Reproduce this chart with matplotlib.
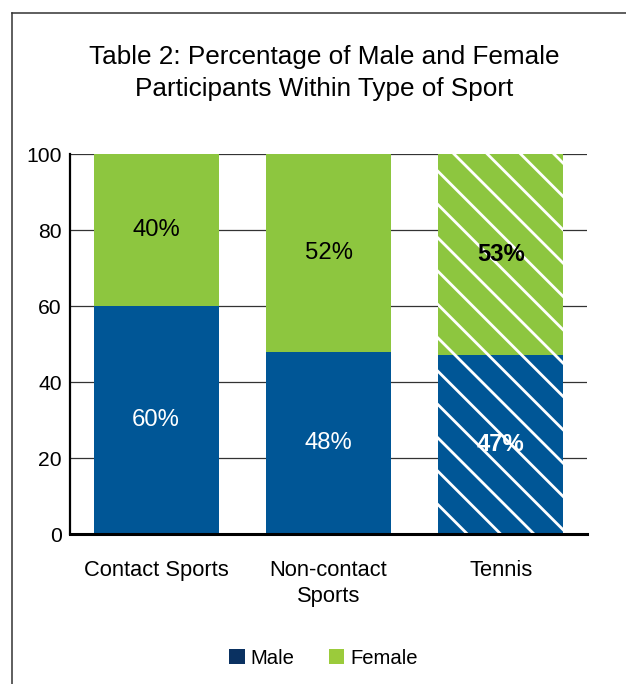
import numpy as np
import matplotlib.pyplot as plt
from matplotlib.patches import Patch
from matplotlib.lines import Line2D

plt.rcParams['font.family'] = ['Liberation Sans', 'DejaVu Sans']
plt.rcParams['hatch.linewidth'] = 1.0
plt.rcParams['hatch.color'] = 'white'

categories = ["Contact Sports", "Non-contact\nSports", "Tennis"]
male = [60, 48, 47]
female = [40, 52, 53]
male_labels = ["60%", "48%", "47%"]
female_labels = ["40%", "52%", "53%"]

MALE_C = "#005696"
FEMALE_C = "#8DC63F"

# high dpi so the hatch spacing matches the wide stripes
fig = plt.figure(figsize=(6.26 / 2, 6.84 / 2), dpi=200)
ax = fig.add_axes([70 / 626, 1 - 534 / 684, 517 / 626, 380 / 684])

x = np.arange(len(categories))
w = 0.725
b_male = ax.bar(x, male, width=w, color=MALE_C, edgecolor="white", linewidth=0, zorder=2)
b_fem = ax.bar(x, female, width=w, bottom=male, color=FEMALE_C, edgecolor="white",
               linewidth=0, zorder=2)
b_male[2].set_hatch("\\\\")
b_fem[2].set_hatch("\\\\")

for i in range(len(categories)):
    wt = "bold" if i == 2 else "normal"
    ax.text(x[i], male[i] / 2, male_labels[i], ha="center", va="center",
            color="white", fontsize=8.6, fontweight=wt, zorder=3)
    ax.text(x[i], male[i] + female[i] / 2, female_labels[i], ha="center", va="center",
            color="black", fontsize=8.6, fontweight=wt, zorder=3)

ax.set_xlim(-0.5, 2.5)
ax.set_ylim(0, 100)
ax.set_yticks([0, 20, 40, 60, 80, 100])
ax.set_xticks(x)
ax.set_xticklabels(categories)
ax.tick_params(axis="y", length=0, pad=2.9, labelsize=7.6)
ax.tick_params(axis="x", length=0, pad=9.5, labelsize=7.9)
for lbl in ax.get_xticklabels():
    lbl.set_linespacing(1.3)
ax.yaxis.grid(True, color="#333333", linewidth=0.45, zorder=1)
ax.set_axisbelow(True)
for s in ["top", "right"]:
    ax.spines[s].set_visible(False)
ax.spines["left"].set_linewidth(0.8)
ax.spines["bottom"].set_linewidth(1.1)
ax.spines["left"].set_zorder(4)
ax.spines["bottom"].set_zorder(4)

fig.text(0.518, 1 - 73 / 684,
         "Table 2: Percentage of Male and Female\nParticipants Within Type of Sport",
         ha="center", va="center", fontsize=9.4, linespacing=1.4)

handles = [Patch(facecolor="#0A3161", label="Male"),
           Patch(facecolor="#9BCB3B", label="Female")]
fig.legend(handles=handles, loc="center", bbox_to_anchor=(0.517, 1 - 658 / 684),
           ncol=2, frameon=False, fontsize=7.3, handlelength=0.75, handleheight=0.75,
           handletextpad=0.3, columnspacing=1.7)

# outer frame (left and top edges)
fig.add_artist(Line2D([12 / 626, 12 / 626], [0, 1 - 13 / 684], transform=fig.transFigure,
                      color="#333333", linewidth=0.55))
fig.add_artist(Line2D([12 / 626, 1], [1 - 13 / 684, 1 - 13 / 684], transform=fig.transFigure,
                      color="#333333", linewidth=0.55))

fig.savefig("out.png", dpi=200)
